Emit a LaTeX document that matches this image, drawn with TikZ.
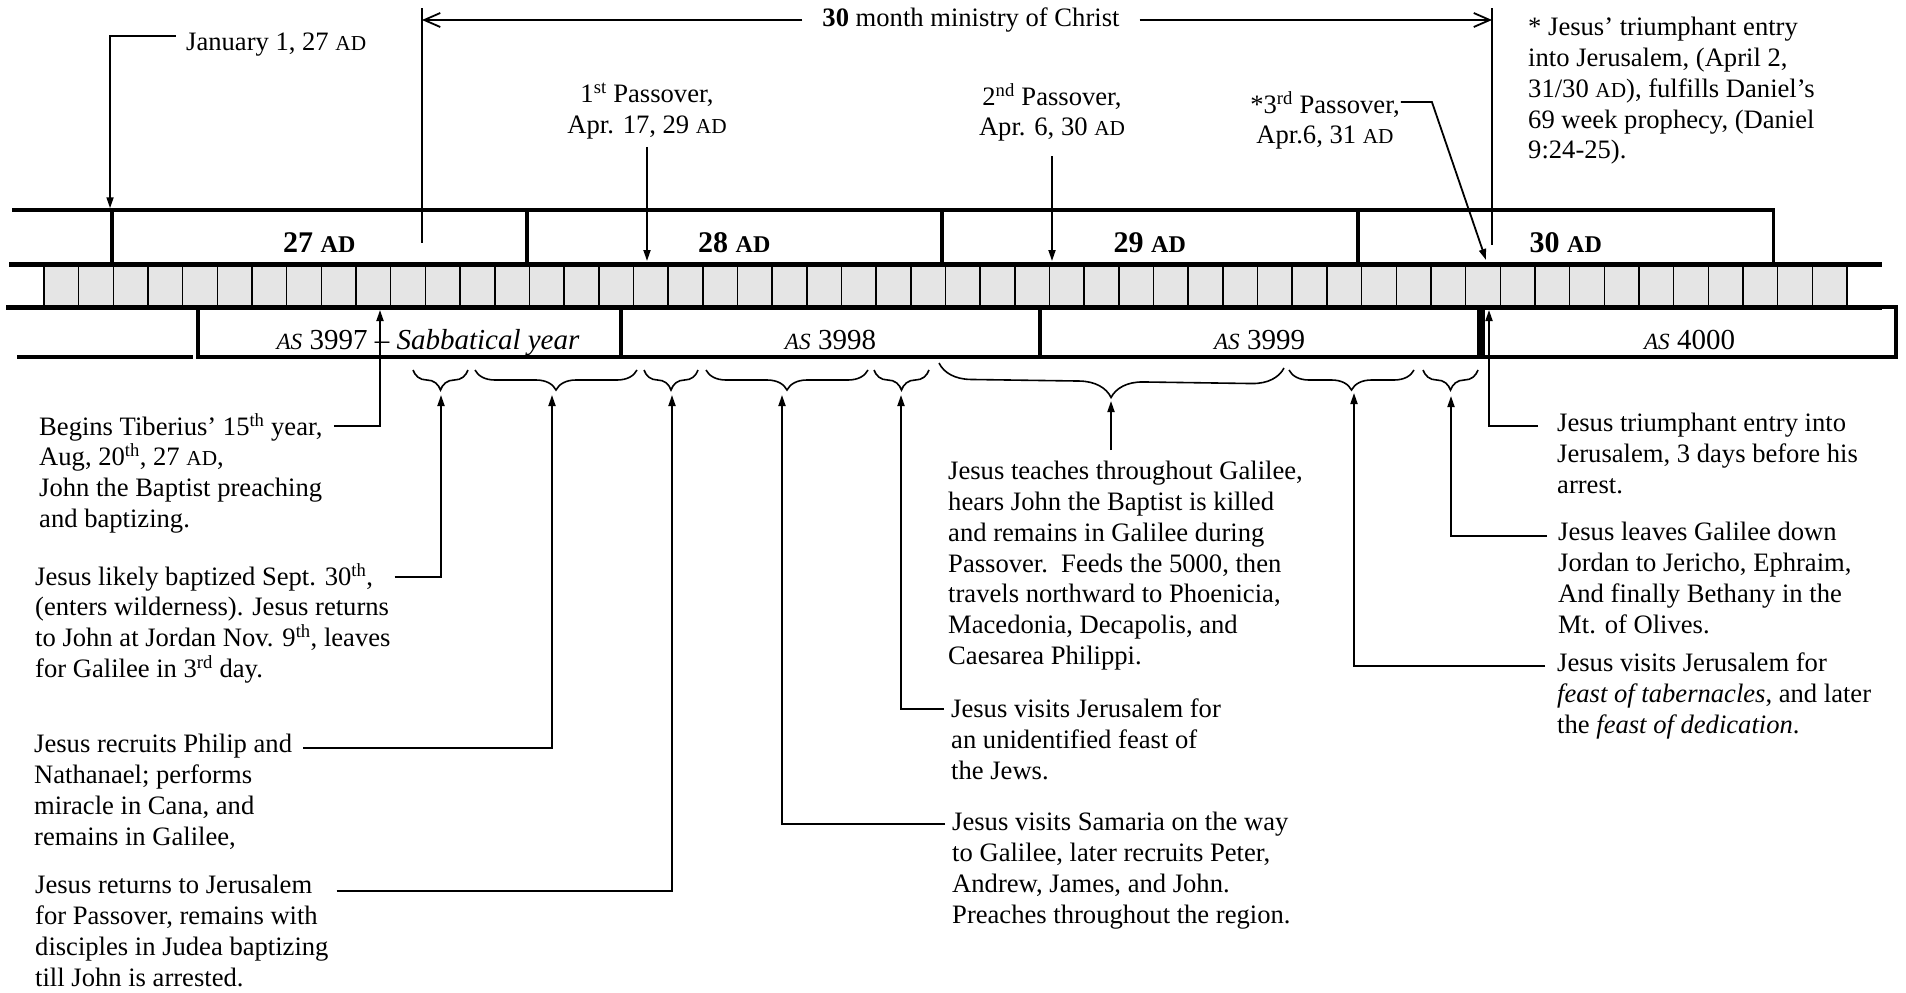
\documentclass[tikz,border=0pt]{standalone}
\usepackage{fontspec}
\setmainfont{Liberation Serif}
\usetikzlibrary{arrows.meta,calc,positioning,decorations.pathreplacing}
\definecolor{cellgray}{RGB}{229,229,229}
\newcommand{\bodyfont}{\fontsize{26.6}{30.8}\selectfont}
\newcommand{\asfont}{\fontsize{29}{33}\selectfont}
\newcommand{\yearfont}{\fontsize{30}{34}\selectfont\bfseries}
\newcommand{\ad}{\scalebox{0.8}{AD}}
\newcommand{\as}{\scalebox{0.8}{\itshape AS}}

\begin{document}
\begin{tikzpicture}[x=1pt, y=-1pt,
  bodytext/.style={anchor=north west, align=left, inner sep=0pt, font=\bodyfont, execute at begin node=\strut},
  conn/.style={line width=1.8pt, -{Triangle[length=11pt,width=7pt]}},
  span/.style={line width=1.8pt, -{Straight Barb[length=16pt,width=14pt]}},
  yearbox/.style={draw, line width=3.5pt, minimum width=415pt, minimum height=54pt, text height=30pt, text depth=0pt, inner sep=0pt, font=\yearfont},
  asbox/.style={draw, line width=3.5pt, minimum height=50pt, text height=35pt, text depth=0pt, inner sep=0pt, font=\asfont},
  cellbox/.style={draw, fill=cellgray, line width=1.5pt},
  bar/.style={line width=5pt},
  curly/.style={decorate, decoration={brace, amplitude=20pt}, line width=1.6pt}]
\useasboundingbox (0,0) rectangle (1906,993);

% month strip
\foreach \i in {0,...,51}
  \draw[cellbox] ({44+\i*34.673},264) rectangle ++(34.673,43);
\draw[bar] (9,264) -- (1882,264);
\draw[bar] (6,307) -- (1882,307);

% years AD
\draw[line width=3.5pt] (12,210) -- (112,210);
\node[yearbox] (yr27) at (319.3,237) {27 \ad};
\node[yearbox] (yr28) at (734.3,237) {28 \ad};
\node[yearbox] (yr29) at (1149.8,237) {29 \ad};
\node[yearbox] (yr30) at (1565.8,237) {30 \ad};

% years AS
\draw[line width=3.5pt] (17,357) -- (193,357);
\node[asbox, minimum width=423pt] (as97) at (409.5,332) {\hspace*{37pt}\as~3997 -- \textit{Sabbatical year}};
\node[asbox, minimum width=419pt] (as98) at (830.5,332) {\as~3998};
\node[asbox, minimum width=439pt] (as99) at (1259.5,332) {\as~3999};
\node[asbox, minimum width=413pt] (as00) at (1689.5,332) {\as~4000};

% ministry span
\coordinate (minL) at (422,8);
\coordinate (minLb) at (422,243);
\coordinate (minR) at (1492,8);
\coordinate (minRb) at (1492,245);
\draw[line width=1.5pt] (minL) -- (minLb);
\draw[line width=1.5pt] (minR) -- (minRb);
\node[font=\bodyfont, inner xsep=20pt] (ministry) at (971,20) {\textbf{30} month ministry of Christ};
\draw[span] (ministry.west) -- (ministry.west -| minL);
\draw[span] (ministry.east) -- (ministry.east -| minR);

% dates above
\coordinate (stripN) at (0,261);
\node[font=\bodyfont, anchor=base west, inner sep=0pt] (jan) at (186,50) {January 1, 27 \ad};
\draw[conn] ([xshift=-10.5pt,yshift=14pt]jan.base west) -| (yr27.north west);
\node[bodytext, anchor=north, align=center] (pass1) at (647,83) {1\textsuperscript{st} Passover,\\Apr. 17, 29 \ad};
\draw[conn] ([yshift=-4pt]pass1.south) -- (pass1.south |- stripN);
\node[bodytext, anchor=north, align=center] (pass2) at (1052,83) {2\textsuperscript{nd} Passover,\\Apr. 6, 30 \ad};
\draw[conn] ([yshift=-11pt]pass2.south) -- (pass2.south |- stripN);
\node[bodytext, anchor=north, align=center] (pass3) at (1325,91) {*3\textsuperscript{rd} Passover,\\Apr.6, 31 \ad};
\coordinate (pass3tip) at (1486,260);
\draw[conn] ([xshift=1pt,yshift=-11pt]pass3.north east) -- ++(31,0) -- (pass3tip);
\node[bodytext] (note) at (1528,17) {* Jesus’ triumphant entry\\into Jerusalem, (April 2,\\31/30 \ad), fulfills Daniel’s\\69 week prophecy, (Daniel\\9:24-25).};

% braces
\foreach \a/\b in {413/468, 475/637, 644/698, 706/868, 874/929, 1289/1414, 1423/1478}
  \draw[curly] (\b,370) -- (\a,370);
\draw[curly, decoration={amplitude=32pt}] (1284,368) -- (939,363);
\coordinate (b1) at (441,395);
\coordinate (b2) at (552,395);
\coordinate (b3) at (672,395);
\coordinate (b4) at (782,395);
\coordinate (b5) at (901,395);
\coordinate (b6) at (1111,401);
\coordinate (b7) at (1354,393);
\coordinate (b8) at (1451,396);

% notes left
\node[bodytext] (tib) at (39,413) {Begins Tiberius’ 15\textsuperscript{th} year,\\Aug, 20\textsuperscript{th}, 27 \ad,\\John the Baptist preaching\\and baptizing.};
\coordinate (tibtip) at (380,310);
\draw[conn] ([xshift=11pt,yshift=-13pt]tib.north east) -| (tibtip);
\node[bodytext] (bapt) at (35,563) {Jesus likely baptized Sept. 30\textsuperscript{th},\\(enters wilderness). Jesus returns\\to John at Jordan Nov. 9\textsuperscript{th}, leaves\\for Galilee in 3\textsuperscript{rd} day.};
\draw[conn] ([xshift=4pt,yshift=-14pt]bapt.north east) -| (b1);
\node[bodytext] (cana) at (34,734) {Jesus recruits Philip and\\Nathanael; performs\\miracle in Cana, and\\remains in Galilee,};
\draw[conn] ([xshift=11pt,yshift=-14pt]cana.north east) -| (b2);
\node[bodytext] (judea) at (35,875) {Jesus returns to Jerusalem\\for Passover, remains with\\disciples in Judea baptizing\\till John is arrested.};
\draw[conn] ([xshift=8pt,yshift=-16pt]judea.north east) -| (b3);

% notes middle
\node[bodytext] (galilee) at (948,461) {Jesus teaches throughout Galilee,\\hears John the Baptist is killed\\and remains in Galilee during\\Passover.\ \ Feeds the 5000, then\\travels northward to Phoenicia,\\Macedonia, Decapolis, and\\Caesarea Philippi.};
\draw[conn] ($(galilee.north -| b6)+(0,-11)$) -- (b6);
\node[bodytext] (feast) at (951,699) {Jesus visits Jerusalem for\\an unidentified feast of\\the Jews.};
\draw[conn] ([xshift=-7pt,yshift=-10pt]feast.north west) -| (b5);
\node[bodytext] (samaria) at (952,812) {Jesus visits Samaria on the way\\to Galilee, later recruits Peter,\\Andrew, James, and John.\\Preaches throughout the region.};
\draw[conn] ([xshift=-7pt,yshift=-12pt]samaria.north west) -| (b4);

% notes right
\node[bodytext] (entry) at (1557,413) {Jesus triumphant entry into\\Jerusalem, 3 days before his\\arrest.};
\coordinate (entrytip) at (1489,310);
\draw[conn] ([xshift=-19pt,yshift=-13pt]entry.north west) -| (entrytip);
\node[bodytext] (jericho) at (1558,522) {Jesus leaves Galilee down\\Jordan to Jericho, Ephraim,\\And finally Bethany in the\\Mt. of Olives.};
\draw[conn] ([xshift=-11pt,yshift=-14pt]jericho.north west) -| (b8);
\node[bodytext] (tabern) at (1557,653) {Jesus visits Jerusalem for\\\textit{feast of tabernacles}, and later\\the \textit{feast of dedication}.};
\draw[conn] ([xshift=-12pt,yshift=-13pt]tabern.north west) -| (b7);

\end{tikzpicture}
\end{document}
